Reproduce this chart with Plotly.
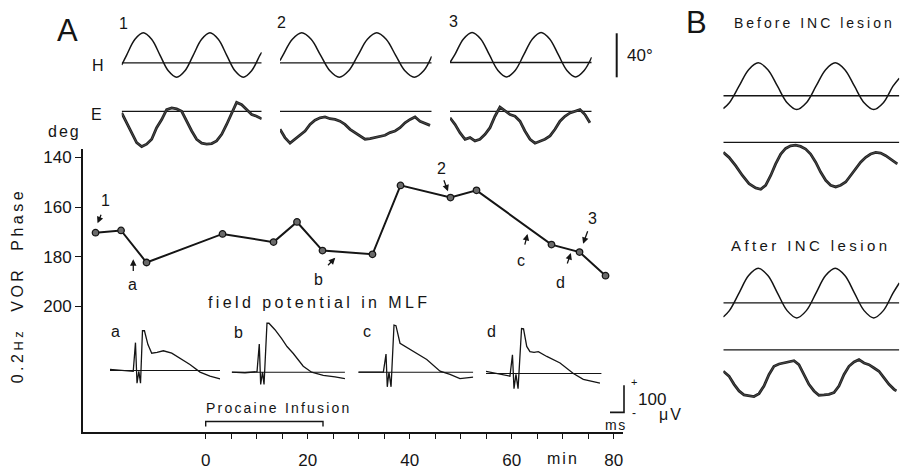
import plotly.graph_objects as go

W, H = 908, 470
FONT = "Liberation Sans"
INK = "#151515"

# ---------------- data : main phase plot ----------------
time_min = [-21.6, -16.6, -11.6, 3.3, 13.3, 17.9, 22.9, 32.7, 38.2, 48.0, 53.1, 67.8, 73.3, 78.4]
phase_deg = [170.3, 169.4, 182.3, 170.8, 174.1, 166.0, 177.5, 179.0, 151.3, 156.2, 153.3, 175.1, 178.1, 187.6]
phase_ticks = [140, 160, 180, 200]
time_ticks = [0, 5, 10, 15, 20, 25, 30, 35, 40, 45, 50, 55, 60, 65, 70, 75, 80]
time_tick_labels = ["0", "", "", "", "20", "", "", "", "40", "", "", "", "60", "", "", "", "80"]
infusion_start_min = 0
infusion_end_min = 23

# ---------------- data : head (H) and eye (E) records, panel A ----------------
h1_t = [0, 0.37, 0.995, 1.62, 2.245, 2.87, 3.495, 4.12, 4.745, 5.37, 5.995, 6.62, 7.245, 7.87, 8.495, 9.12, 9.745, 10.37, 10.5]
h1_deg = [-1.9, 7.1, 21.4, 27.3, 21.4, 7.1, -7.2, -13.1, -7.2, 7.1, 21.4, 27.3, 21.4, 7.1, -7.2, -13.1, -7.2, 7.1, 9.6]
h2_t = [0, 0.2, 0.825, 1.45, 2.075, 2.7, 3.325, 3.95, 4.575, 5.2, 5.825, 6.45, 7.075, 7.7, 8.325, 8.95, 9.575, 10.11]
h2_deg = [2.1, 7.1, 21.4, 27.3, 21.4, 7.1, -7.2, -13.1, -7.2, 7.1, 21.4, 27.3, 21.4, 7.1, -7.2, -13.1, -7.2, 6.0]
h3_t = [0, 0.35, 0.975, 1.6, 2.225, 2.85, 3.475, 4.1, 4.725, 5.35, 5.975, 6.6, 7.225, 7.85, 8.475, 9.1, 9.725, 10.27]
h3_deg = [0.0, 7.1, 21.4, 27.3, 21.4, 7.1, -7.2, -13.1, -7.2, 7.1, 21.4, 27.3, 21.4, 7.1, -7.2, -13.1, -7.2, 4.8]

e1_t = [0, 0.37, 0.75, 1.12, 1.5, 1.87, 2.25, 2.62, 3.0, 3.37, 3.75, 4.12, 4.5, 4.87, 5.25, 5.62, 6.0, 6.37, 6.75, 7.12, 7.5, 7.87, 8.25, 8.62, 9.0, 9.37, 9.75, 10.12, 10.5]
e1_deg = [-1.5, -10.4, -20.9, -28.4, -32.0, -29.9, -25.4, -14.9, -7.5, 1.5, 3.0, 2.1, 0.0, -9.0, -17.9, -25.4, -29.0, -29.9, -29.3, -26.9, -20.9, -12.0, -1.5, 8.1, 6.0, 1.5, -3.0, -4.5, -6.9]
e2_t = [0, 0.33, 0.67, 1.0, 1.33, 1.67, 2.0, 2.33, 2.67, 3.0, 3.33, 3.67, 4.0, 4.33, 4.67, 5.0, 5.33, 5.67, 6.0, 6.33, 6.67, 7.0, 7.33, 7.67, 8.0, 8.33, 8.67, 9.0, 9.33, 9.67, 10.0]
e2_deg = [-16.4, -23.9, -29.0, -25.4, -22.4, -17.9, -11.9, -8.1, -5.9, -5.1, -6.8, -7.4, -9.0, -11.9, -16.4, -19.4, -23.0, -25.4, -24.8, -23.9, -23.0, -21.8, -19.4, -17.9, -14.9, -10.4, -7.4, -5.1, -9.0, -11.0, -12.8]
e3_t = [0, 0.36, 0.72, 1.09, 1.45, 1.81, 2.17, 2.54, 2.9, 3.26, 3.62, 3.99, 4.35, 4.71, 5.07, 5.43, 5.8, 6.16, 6.52, 6.88, 7.25, 7.61, 7.97, 8.33, 8.7, 9.06, 9.42, 9.78, 10.14]
e3_deg = [-5.9, -11.9, -19.4, -25.4, -23.9, -26.9, -25.4, -20.9, -14.9, -4.5, 3.9, 0.0, -3.0, -4.5, -9.0, -17.9, -25.4, -29.0, -26.9, -25.4, -22.4, -16.4, -9.0, -4.5, -1.5, 0.0, 1.5, -3.0, -10.4]

# ---------------- data : panel B ----------------
bh_t = [0, 0.395, 1.02, 1.645, 2.27, 2.895, 3.52, 4.145, 4.77, 5.395, 6.02, 6.645, 7.27, 7.895, 8.52, 9.145, 9.77, 10.395, 11.02, 11.43]
bh_before_deg = [-11.6, -6.3, 8.7, 23.7, 29.9, 23.7, 8.7, -6.3, -12.5, -6.3, 8.7, 23.7, 29.9, 23.7, 8.7, -6.3, -12.5, -6.3, 8.7, 16.0]
bh_after_deg = [-12.8, -7.1, 8.8, 24.7, 31.3, 24.7, 8.8, -7.1, -13.7, -7.1, 8.8, 24.7, 31.3, 24.7, 8.8, -7.1, -13.7, -7.1, 8.8, 18.0]
be_before_t = [0, 0.37, 0.8, 1.24, 1.67, 2.1, 2.43, 2.75, 3.08, 3.4, 3.73, 4.05, 4.37, 4.7, 5.02, 5.35, 5.67, 6.0, 6.32, 6.65, 6.97, 7.3, 7.62, 7.95, 8.27, 8.6, 8.92, 9.25, 9.57, 9.9, 10.22, 10.55, 10.87, 11.3]
be_before_deg = [-9.0, -13.5, -21.0, -30.0, -37.4, -41.3, -42.5, -38.9, -30.0, -19.5, -10.5, -5.4, -3.0, -2.4, -3.6, -6.0, -10.5, -17.9, -26.9, -34.4, -38.9, -40.4, -38.9, -35.9, -30.0, -23.9, -17.9, -13.5, -10.5, -9.0, -9.6, -12.0, -15.0, -19.5]
be_after_t = [0, 0.37, 0.7, 1.02, 1.34, 1.67, 1.99, 2.32, 2.64, 2.97, 3.29, 3.62, 3.94, 4.27, 4.59, 4.91, 5.24, 5.56, 5.89, 6.21, 6.54, 6.86, 7.19, 7.51, 7.84, 8.16, 8.49, 8.81, 9.14, 9.46, 9.79, 10.11, 10.44, 10.76, 11.09, 11.24]
be_after_deg = [-19.5, -23.9, -31.4, -37.4, -41.0, -41.9, -42.5, -39.8, -32.9, -22.4, -15.0, -12.9, -12.0, -10.5, -9.9, -13.5, -22.4, -31.4, -37.4, -41.3, -41.0, -40.4, -38.9, -32.9, -22.4, -15.0, -11.1, -9.0, -12.0, -13.5, -16.5, -19.5, -25.5, -31.4, -35.9, -37.4]

# ---------------- data : field potentials in MLF ----------------
fp_a_ms = [0, 0.71, 1.66, 1.82, 1.93, 2.06, 2.18, 2.32, 2.46, 2.71, 2.98, 3.36, 3.81, 4.41, 5.0, 5.71, 6.43, 7.14, 7.86]
fp_a_uv = [4, 1, -3, 103, -47, -3, -47, 147, 147, 96, 64, 67, 73, 64, 45, 22, -6, -21, -31]
fp_b_ms = [0, 0.95, 1.81, 1.97, 2.07, 2.2, 2.31, 2.52, 2.66, 3.09, 3.57, 3.95, 4.4, 5.11, 5.71, 6.54, 7.38, 8.09]
fp_b_uv = [0, -2, 2, 104, -45, 0, -45, 181, 181, 157, 124, 95, 69, 22, 0, -12, -17, -24]
fp_c_ms = [0, 0.84, 1.79, 1.98, 2.07, 2.19, 2.34, 2.55, 2.69, 2.98, 3.93, 4.89, 5.84, 6.55, 7.26, 8.21]
fp_c_uv = [0, 0, 0, 67, -54, 0, -54, 174, 172, 107, 77, 47, 4, -8, -24, -18]
fp_d_ms = [0, 0.86, 1.71, 1.89, 2.0, 2.14, 2.29, 2.54, 2.68, 2.91, 3.14, 3.43, 3.74, 4.34, 5.29, 6.24, 6.95, 8.14]
fp_d_uv = [8, -1, -10, 69, -56, -3, -56, 166, 165, 100, 81, 78, 81, 63, 39, 0, -22, -36]

# ---------------- helpers ----------------
def px(x):
    return x / W

def py(y):
    return 1 - y / H

fig = go.Figure()
axes_layout = {}
counter = [1]

def add_axes(x0, x1, y0, y1, xr, base_px, ppu):
    counter[0] += 1
    i = counter[0]
    yr = [(base_px - y1) / ppu, (base_px - y0) / ppu]
    axes_layout[f"xaxis{i}"] = dict(domain=[px(x0), px(x1)], range=xr, visible=False,
                                    anchor=f"y{i}", fixedrange=True)
    axes_layout[f"yaxis{i}"] = dict(domain=[py(y1), py(y0)], range=yr, visible=False,
                                    anchor=f"x{i}", fixedrange=True)
    return f"x{i}", f"y{i}"

def line(xs, ys, xa, ya, width=1.4, shape="linear", color=INK):
    fig.add_trace(go.Scatter(x=xs, y=ys, xaxis=xa, yaxis=ya, mode="lines",
                             line=dict(color=color, width=width, shape=shape),
                             hoverinfo="skip", showlegend=False))

DEG_PX = 1.115   # px per degree (40 deg bar)
# Panel A columns
colsA = [
    (121.7, 261.7, 10.5, h1_t, h1_deg, e1_t, e1_deg, 62.7),
    (280.0, 431.7, 10.11, h2_t, h2_deg, e2_t, e2_deg, 62.7),
    (450.0, 591.7, 10.27, h3_t, h3_deg, e3_t, e3_deg, 62.3),
]
for x0, x1, T, ht, hd, et, ed, hb in colsA:
    xa, ya = add_axes(x0, x1, 22, 88, [0, T], hb, DEG_PX)
    line([0, T], [0, 0], xa, ya, 1.3)
    line(ht, hd, xa, ya, 1.5, "spline")
    xa, ya = add_axes(x0, x1, 92, 158, [0, T], 111.7, DEG_PX)
    line([0, T], [0, 0], xa, ya, 1.3)
    line(et, ed, xa, ya, 2.8, color="#222222")
    line(et, ed, xa, ya, 0.7, color="#5a5a5a")

# Panel B
TB = 11.43
for y0, y1, base, t, d, is_eye in [
    (50, 125, 96.0, bh_t, bh_before_deg, False),
    (128, 200, 143.3, be_before_t, be_before_deg, True),
    (258, 335, 305.7, bh_t, bh_after_deg, False),
    (338, 412, 353.3, be_after_t, be_after_deg, True),
]:
    xa, ya = add_axes(723.3, 899.3, y0, y1, [0, TB], base, DEG_PX)
    line([0, TB], [0, 0], xa, ya, 1.3)
    if is_eye:
        line(t, d, xa, ya, 2.8, color="#222222")
        line(t, d, xa, ya, 0.7, color="#5a5a5a")
    else:
        line(t, d, xa, ya, 1.5, "spline")

# Field potentials
UV_PX = 0.274   # px per microvolt
MS_PX = 14.0    # px per ms
for x0, base, t, v, T in [
    (110.0, 374.3, fp_a_ms, fp_a_uv, 7.86),
    (231.7, 376.0, fp_b_ms, fp_b_uv, 8.09),
    (358.3, 376.0, fp_c_ms, fp_c_uv, 8.21),
    (486.0, 377.3, fp_d_ms, fp_d_uv, 8.26),
]:
    xa, ya = add_axes(x0, x0 + T * MS_PX, 318, 402, [0, T], base, UV_PX)
    line([0, T], [0, 0], xa, ya, 1.1)
    line(t, v, xa, ya, 1.3)

# Main phase plot
fig.add_trace(go.Scatter(
    x=time_min, y=phase_deg, mode="lines+markers",
    line=dict(color=INK, width=2),
    marker=dict(size=6.5, color="#6a6a6a", line=dict(color=INK, width=1.3)),
    hoverinfo="skip", showlegend=False))

x_lo = (83 - 205.7) / 5.1
x_hi = (623 - 205.7) / 5.1
y_top = 140 - (158.3 - 150) / 2.52
y_bot = 140 + (437 - 158.3) / 2.52

axes_layout["xaxis"] = dict(
    domain=[px(83), px(623)], range=[x_lo, x_hi], tickmode="array",
    tickvals=time_ticks, ticktext=time_tick_labels, ticks="outside", ticklen=5,
    tickwidth=1.4, tickcolor=INK, showline=True, linewidth=2, linecolor=INK,
    showgrid=False, zeroline=False, tickfont=dict(family=FONT, size=17, color=INK),
    ticklabelstandoff=6, anchor="y", fixedrange=True)
axes_layout["yaxis"] = dict(
    domain=[py(437), py(150)], range=[y_bot, y_top], tickmode="array",
    tickvals=phase_ticks, ticks="outside", ticklen=6, tickwidth=1.4, tickcolor=INK,
    showline=True, linewidth=2, linecolor=INK, showgrid=False, zeroline=False,
    tickfont=dict(family=FONT, size=17, color=INK), anchor="x", fixedrange=True)

# ---------------- annotations ----------------
ann = []

def sp(text, s):
    return f'<span style="letter-spacing:{s}px">{text}</span>'

def txt(x, y, text, size=16, xanchor="center", angle=0):
    ann.append(dict(x=px(x), y=py(y), xref="paper", yref="paper", text=text,
                    showarrow=False, xanchor=xanchor, yanchor="middle", textangle=angle,
                    font=dict(family=FONT, size=size, color=INK)))

txt(67, 30, "A", 31)
txt(696, 22, "B", 31)
txt(123.3, 23, "1")
txt(281.7, 22, "2")
txt(453.3, 21, "3")
txt(98.3, 65, "H")
txt(96.7, 115, "E")
txt(640, 55, "40°", 17)
txt(64, 132, sp("deg", 2), 16)
txt(814, 22, sp("Before INC lesion", 3), 14)
txt(810.5, 248, sp("After INC lesion", 3.4), 15)
txt(318.5, 305, sp("field potential in MLF", 3.4), 16)
txt(279, 412, sp("Procaine Infusion", 2.2), 14)
txt(115, 335, "a")
txt(238.3, 336, "b")
txt(366.7, 335, "c")
txt(491.7, 335, "d")
txt(563.3, 463, sp("min", 2), 16)
txt(616, 429, sp("ms", 1.5), 14)
txt(652, 404, "100", 17)
txt(671, 419, sp("μV", 2), 16)
txt(633.5, 386, "+", 11)
txt(633.5, 417, "-", 12)
txt(17, 289, sp('0.2<span style="font-size:13px">Hz</span>  VOR  Phase', 3.5), 16, angle=-90)

# arrow labels on main plot (data coordinates)
for lab, lx, ly in [("1", -19.7, 157.2), ("a", -14.3, 191), ("b", 22.1, 189),
                    ("2", 46.3, 144.4), ("c", 61.8, 181.4), ("d", 69.6, 190.3),
                    ("3", 75.8, 164.5)]:
    ann.append(dict(x=lx, y=ly, xref="x", yref="y", text=lab, showarrow=False,
                    font=dict(family=FONT, size=16, color=INK)))
for hx, hy, tx, ty in [(-21.2, 166.5, -20.4, 162.5), (-14.2, 181.0, -14.2, 186.3),
                       (25.4, 180.4, 23.7, 184.0), (47.5, 153.7, 46.6, 148.6),
                       (63.1, 170.8, 62.5, 175.7), (71.6, 178.5, 70.8, 183.3),
                       (74.0, 174.8, 75.0, 169.1)]:
    ann.append(dict(x=hx, y=hy, ax=tx, ay=ty, xref="x", yref="y", axref="x", ayref="y",
                    text="", showarrow=True, arrowhead=2, arrowsize=1, arrowwidth=1.3,
                    arrowcolor=INK))

# ---------------- shapes ----------------
shapes = [
    dict(type="line", xref="paper", yref="paper", x0=px(616.7), x1=px(616.7),
         y0=py(32.7), y1=py(77.3), line=dict(color=INK, width=2)),
    dict(type="path", xref="paper", yref="paper",
         path=f"M {px(610)},{py(416.7)} L {px(624)},{py(416.7)} L {px(624)},{py(389.3)}",
         line=dict(color=INK, width=1.6)),
]
yb = 140 + (426 - 158.3) / 2.52
ys = 140 + (431 - 158.3) / 2.52
shapes.append(dict(type="path", xref="x", yref="y",
                   path=f"M {infusion_start_min},{ys} L {infusion_start_min},{yb} "
                        f"L {infusion_end_min},{yb} L {infusion_end_min},{ys}",
                   line=dict(color=INK, width=1.4)))

fig.update_layout(
    width=W, height=H, margin=dict(l=0, r=0, t=0, b=0),
    paper_bgcolor="white", plot_bgcolor="rgba(0,0,0,0)",
    showlegend=False, annotations=ann, shapes=shapes,
    font=dict(family=FONT, color=INK),
    **axes_layout)

fig.write_html("out.html")
